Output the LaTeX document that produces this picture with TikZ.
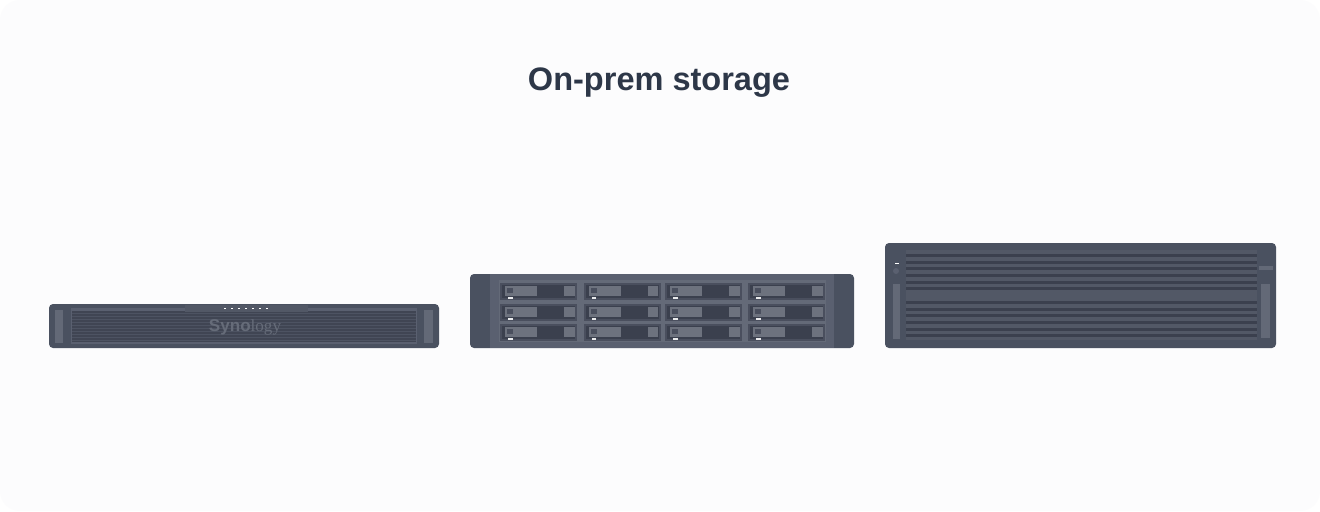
\documentclass[tikz,border=0pt]{standalone}
\usepackage{fontspec}
\setmainfont{Liberation Sans}
\newfontfamily\logoserif{Liberation Serif}
\definecolor{bgc}{HTML}{FCFCFD}
\definecolor{titlec}{HTML}{2D3748}
\definecolor{body}{HTML}{4A5160}
\definecolor{bodyb}{HTML}{5A6070}
\definecolor{lite}{HTML}{6D727E}
\definecolor{handle}{HTML}{636977}
\definecolor{darkc}{HTML}{3B404E}
\definecolor{midc}{HTML}{525866}
\definecolor{grillc}{HTML}{4B5160}
\definecolor{logoc}{HTML}{666C79}
\definecolor{frame}{HTML}{4A4F5E}
\tikzset{
  px/.style={x=0.75pt,y=-0.75pt},
  bayin/.style={fill=lite,draw=none},
}
\begin{document}
\begin{tikzpicture}[px]
\useasboundingbox (0,0) rectangle (1320,511);
\fill[white] (0,0) rectangle (1320,511);
\fill[bgc,rounded corners=15pt] (0,0) rectangle (1320,511);
\node[font=\bfseries\fontsize{24.4pt}{28pt}\selectfont,text=titlec,inner sep=0pt] (title) at (659,83) {On-prem storage};

% device 1
\fill[body,rounded corners=3pt] (49,304) rectangle (439,348);
\fill[handle] (55,310) rectangle (63,343);
\fill[handle] (424,310) rectangle (433,343);
\fill[bodyb] (71,308) rectangle (417,344);
\fill[darkc!70!grillc] (72,311) rectangle (416,342);
\foreach \y in {312.5,315.5,...,341} {\fill[grillc!85!bodyb] (72,\y) rectangle (416,\y+1.6);}
\fill[midc] (185,305) rectangle (308,312);
\fill[bodyb] (72,308.5) rectangle (184,311);
\fill[bodyb] (310,308.5) rectangle (415,311);
\foreach \x in {224,231,...,266} {\fill[white] (\x,307.6) rectangle (\x+1.8,309.2);}
\node[font=\fontsize{12.8pt}{16pt}\selectfont,text=logoc,inner sep=0pt] (logo) at (245,327.5) {\textbf{Syno}{\logoserif logy}};

% device 2
\fill[body,rounded corners=3pt] (470,274) rectangle (854,348);
\fill[bodyb] (490,274) rectangle (834,348);
\fill[lite!55!bodyb] (499,280) rectangle (826,342);
\foreach \bx in {500,583.5,665,748} {
  \foreach \by in {283,303.5,324} {
    \fill[frame] (\bx,\by) rectangle (\bx+77,\by+17);
    \fill[darkc] (\bx+2,\by+2) rectangle (\bx+75,\by+15);
    \fill[bayin] (\bx+5,\by+3) rectangle (\bx+37,\by+13);
    \fill[frame] (\bx+7,\by+5) rectangle (\bx+13,\by+10);
    \fill[bayin] (\bx+64,\by+3) rectangle (\bx+74.5,\by+13);
    \fill[white!85!lite] (\bx+8,\by+14.3) rectangle (\bx+12.5,\by+16);
  }
}

% device 3
\fill[body,rounded corners=3pt] (885,243) rectangle (1276,348);
\fill[midc] (906,250) rectangle (1257,340);
\foreach \y in {254,260.7,267.4,274,280.7,287.4,301,307.7,314.4,321,327.7,334.4} {\fill[darkc] (906,\y) rectangle (1257,\y+3);}
\fill[handle] (893,284) rectangle (900,339);
\fill[handle] (1261,284) rectangle (1270,338);
\fill[handle] (1259,266) rectangle (1273,270);
\fill[white] (895,262.7) rectangle (899,264.4);
\fill[bodyb] (896,271) circle (3);
\end{tikzpicture}
\end{document}
